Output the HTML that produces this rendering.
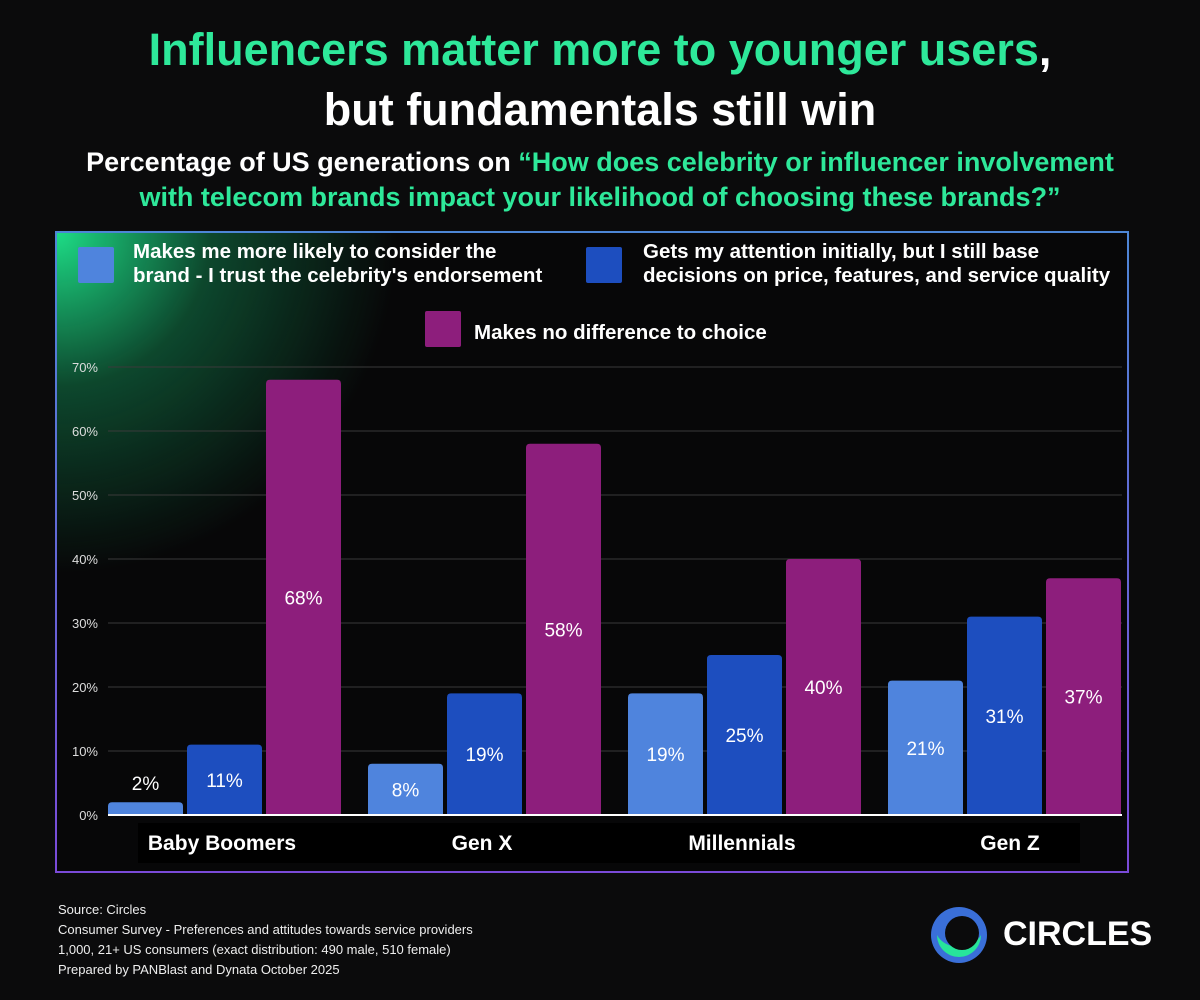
<!DOCTYPE html>
<html><head><meta charset="utf-8"><style>
body{margin:0;width:1200px;height:1000px;background:#0b0b0c;font-family:"Liberation Sans",sans-serif;color:#fff;position:relative;overflow:hidden}
.t{position:absolute;left:0;width:1200px;text-align:center;font-weight:bold}
.g{color:#2ee89a}
</style></head><body>
<div class="t" style="top:20px;font-size:45px;line-height:60px"><span class="g">Influencers matter more to younger users</span>,<br>but fundamentals still win</div>
<div class="t" style="top:145px;font-size:27px;line-height:35px">Percentage of US generations on <span class="g">“How does celebrity or influencer involvement<br>with telecom brands impact your likelihood of choosing these brands?”</span></div>
<div style="position:absolute;left:55px;top:231px;width:1074px;height:642px;box-sizing:border-box;border:2px solid;border-image:linear-gradient(#4d86d6,#7a4ad8) 1;background:radial-gradient(circle 340px at 0px 0px,rgba(30,230,140,.95),rgba(20,150,90,.45) 45%,rgba(0,0,0,0) 100%),#070708"></div>
<svg id="c" width="1200" height="1000" style="position:absolute;left:0;top:0"></svg>
<div style="position:absolute;left:58px;top:900px;font-size:13px;line-height:20px;color:#eee">Source: Circles<br>Consumer Survey - Preferences and attitudes towards service providers<br>1,000, 21+ US consumers (exact distribution: 490 male, 510 female)<br>Prepared by PANBlast and Dynata October 2025</div>
<svg width="60" height="60" style="position:absolute;left:929px;top:905px">
<circle cx="30" cy="30" r="28" fill="#3a6fd8"/><path d="M8 30 A22 22 0 0 0 52 30 A24 20 0 0 1 8 30Z" fill="#27e59a"/><circle cx="33" cy="28" r="17" fill="#0b0b0c"/></svg>
<div style="position:absolute;left:1003px;top:915px;font-size:34px;font-weight:bold">CIRCLES</div>
<script>
const categories=["Baby Boomers","Gen X","Millennials","Gen Z"];
const seriesNames=["Makes me more likely to consider the brand - I trust the celebrity's endorsement","Gets my attention initially, but I still base decisions on price, features, and service quality","Makes no difference to choice"];
const likely=[2,8,19,21];
const attention=[11,19,25,31];
const noDiff=[68,58,40,37];
const ticks=[0,10,20,30,40,50,60,70];
const colors=["#4f84dd","#1d4ebf","#8d1e7c"];
const svg=document.getElementById('c');const NS='http://www.w3.org/2000/svg';
function mk(t,a,p){const e=document.createElementNS(NS,t);for(const k in a)e.setAttribute(k,a[k]);(p||svg).appendChild(e);return e;}
const y0=815,pp=6.4,x0=108,band=260,bw=75,step=79;
const Y=v=>y0-v*pp;
ticks.forEach(t=>{
 if(t>0){const l=mk('line',{x1:108,x2:1122,y1:Y(t),y2:Y(t),stroke:'#3a3a3a','stroke-width':1});
 }
 const tx=mk('text',{x:98,y:Y(t)+5,'text-anchor':'end','font-size':13,fill:'#ddd'});tx.textContent=t+'%';
 
});
const lab=mk('rect',{x:138,y:823,width:942,height:40,fill:'#000'});

const series=[likely,attention,noDiff];
categories.forEach((c,i)=>{
 series.forEach((s,j)=>{
  const v=s[i],x=x0+i*band+j*step,h=v*pp;
  const r=mk('path',{d:`M${x} ${y0}V${Y(v)+4}q0 -4 4 -4h${bw-8}q4 0 4 4V${y0}Z`,fill:colors[j]});
  
  
  const ly=h<25?Y(v)-12:(Y(v)+y0)/2+7;
  const t=mk('text',{x:x+bw/2,y:ly,'text-anchor':'middle','font-size':19,fill:'#fff'});t.textContent=v+'%';
  
 });
 const t=mk('text',{x:x0+i*band+114+(i==3?8:0),y:850,'text-anchor':'middle','font-size':21,'font-weight':'bold',fill:'#fff'});t.textContent=c;
 
});
const ax=mk('line',{x1:108,x2:1122,y1:y0,y2:y0,stroke:'#fff','stroke-width':2});

const leg=[[78,247,133,["Makes me more likely to consider the","brand - I trust the celebrity's endorsement"]],[586,247,643,["Gets my attention initially, but I still base","decisions on price, features, and service quality"]],[425,311,474,["Makes no difference to choice"]]];
leg.forEach((L,j)=>{
 const r=mk('rect',{x:L[0],y:L[1],width:36,height:36,rx:2,fill:colors[j]});
 
 L[3].forEach((s,k)=>{const t=mk('text',{x:L[2],y:(L[3].length==1?L[1]+28:258+k*24),'font-size':20.5,'font-weight':'bold',fill:'#fff'});t.textContent=s;
 });
});
</script>
</body></html>
